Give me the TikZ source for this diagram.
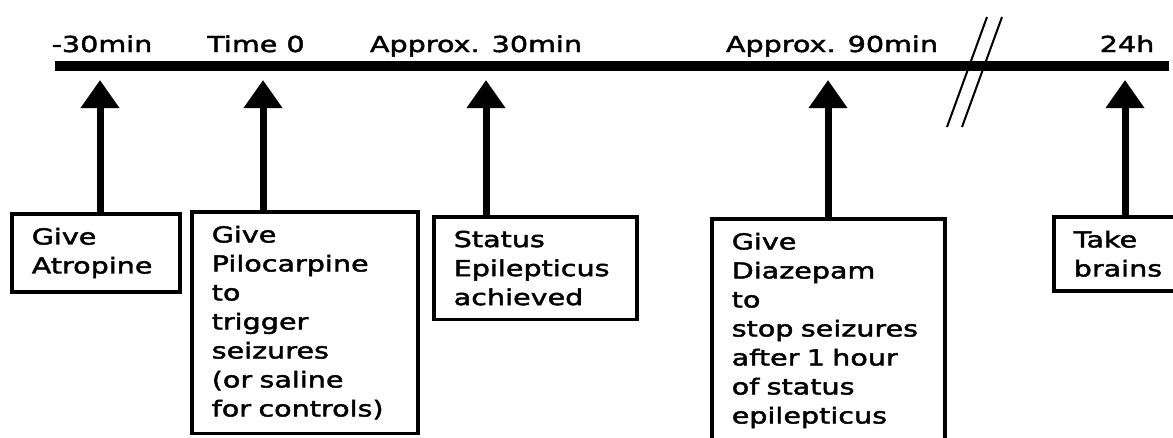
\documentclass[tikz,border=0pt]{standalone}
\usepackage{fontspec}
\setmainfont{DejaVu Sans}[FakeStretch=1.3,FakeBold=2]
\usetikzlibrary{arrows.meta}

\begin{document}
\begin{tikzpicture}[x=1pt,y=-1pt,
        every node/.style={font=\fontsize{22}{29}\selectfont},
        stamp/.style={anchor=base, inner sep=0pt},
        event/.style={draw, line width=3.5pt, anchor=north west, align=left, inner xsep=20pt, inner ysep=14pt},
        tick/.style={line width=7pt, -{Triangle[length=28pt,width=37pt]}}]
        \useasboundingbox (0,0) rectangle (1173,437);

        % time axis with break
        \draw[line width=10pt] (55,66) -- (1169,66);
        \draw[line width=2pt] (987,17) -- (947,127);
        \draw[line width=2pt] (1002,17) -- (962,127);

        % times
        \node[stamp] (L1) at (102,52) {-30min};
        \node[stamp] (L2) at (256,52) {Time 0};
        \node[stamp] (L3) at (476,52) {Approx. 30min};
        \node[stamp] (L4) at (832,52) {Approx. 90min};
        \node[stamp] (L5) at (1127,52) {24h};
        %
        \coordinate (T1) at (100,80);
        \coordinate (T2) at (263,80);
        \coordinate (T3) at (486,80);
        \coordinate (T4) at (828,80);
        \coordinate (T5) at (1125,80);

        % events
        \node[event, text width=128pt] (E1) at (10,212) {Give\\Atropine};
        \node[event, text width=186pt] (E2) at (190,210) {Give\\Pilocarpine\\to\\trigger\\seizures\\(or~saline\\for~controls)};
        \node[event, text width=163pt] (E3) at (432,215) {Status\\Epilepticus\\achieved};
        \node[event, text width=193pt] (E4) at (710,217) {Give\\Diazepam\\to\\stop~seizures\\after~1~hour\\of~status\\epilepticus};
        \node[event, text width=120pt] (E5) at (1052,215) {Take\\brains};
        %
        \draw[tick] (E1.north -| T1) -- (T1);
        \draw[tick] (E2.north -| T2) -- (T2);
        \draw[tick] (E3.north -| T3) -- (T3);
        \draw[tick] (E4.north -| T4) -- (T4);
        \draw[tick] (E5.north -| T5) -- (T5);

\end{tikzpicture}
\end{document}
